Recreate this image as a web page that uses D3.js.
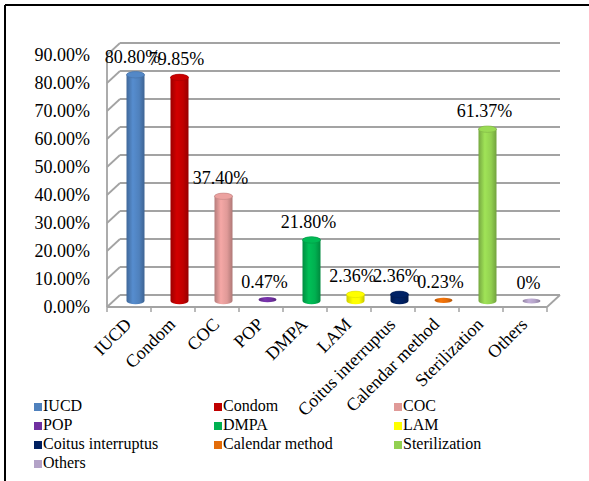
<!DOCTYPE html>
<html><head><meta charset="utf-8">
<script src="https://cdn.jsdelivr.net/npm/d3@7"></script>
<style>body{margin:0;background:#fff}svg{display:block}</style>
</head><body><div id="chart"></div>
<script>
const categories = ["IUCD","Condom","COC","POP","DMPA","LAM","Coitus interruptus","Calendar method","Sterilization","Others"];
const values = [80.80,79.85,37.40,0.47,21.80,2.36,2.36,0.23,61.37,0];
const valueLabels = ["80.80%","79.85%","37.40%","0.47%","21.80%","2.36%","2.36%","0.23%","61.37%","0%"];
const colors = ["#4F81BD","#C00000","#E09A98","#7030A0","#00B050","#FFFF00","#002060","#E36C09","#92D050","#B3A2C7"];
const yTicks = [0,10,20,30,40,50,60,70,80,90];

const FONT = "'Liberation Serif', 'DejaVu Serif', serif";
const W = 589, H = 481;
const svg = d3.select("#chart").append("svg").attr("width", W).attr("height", H)
  .attr("font-family", FONT);
const defs = svg.append("defs");

const depthX = 13, depthY = -12;
const x = d3.scaleBand().domain(categories).range([107, 547]);
const y = d3.scaleLinear().domain([0, 90]).range([307, 55]);
const grid = "#a3a3a3";

svg.append("line").attr("x1",5).attr("y1",5).attr("x2",W).attr("y2",5).attr("stroke","#000").attr("stroke-width",2);
svg.append("line").attr("x1",5).attr("y1",5).attr("x2",5).attr("y2",H).attr("stroke","#000").attr("stroke-width",2);

const g = svg.append("g");
yTicks.forEach(t => {
  g.append("line").attr("x1",107+depthX).attr("x2",547+depthX)
    .attr("y1",y(t)+depthY).attr("y2",y(t)+depthY).attr("stroke",grid).attr("stroke-width",1.8);
  g.append("line").attr("x1",107).attr("x2",107+depthX)
    .attr("y1",y(t)).attr("y2",y(t)+depthY).attr("stroke",grid).attr("stroke-width",1.8);
});
g.append("line").attr("x1",107).attr("x2",107).attr("y1",y(90)).attr("y2",y(0)).attr("stroke",grid).attr("stroke-width",1.8);
g.append("line").attr("x1",107).attr("x2",547).attr("y1",y(0)).attr("y2",y(0)).attr("stroke",grid).attr("stroke-width",1.8);
g.append("line").attr("x1",547).attr("x2",547+depthX).attr("y1",y(0)).attr("y2",y(0)+depthY).attr("stroke",grid).attr("stroke-width",1.8);
const tickXs = categories.map(c => x(c)).concat([x.range()[1]]);
tickXs.forEach(tx => {
  g.append("line").attr("x1",tx).attr("x2",tx).attr("y1",y(0)).attr("y2",y(0)+5).attr("stroke",grid).attr("stroke-width",1.5);
});

svg.append("g").selectAll("text").data(yTicks).join("text")
  .attr("font-family", FONT)
  .attr("x", 90).attr("y", d => y(d)).attr("dy","0.35em")
  .attr("text-anchor","end").attr("font-size",18).attr("fill","#000")
  .text(d => d.toFixed(2) + "%");

const rx = 9, ry = 3.2;
categories.forEach((c, i) => {
  const col = d3.color(colors[i]);
  const gid = "grad" + i;
  const lg = defs.append("linearGradient").attr("id", gid).attr("x1","0%").attr("x2","100%").attr("y1","0%").attr("y2","0%");
  lg.append("stop").attr("offset","0%").attr("stop-color", col.darker(0.6));
  lg.append("stop").attr("offset","35%").attr("stop-color", col.brighter(0.25));
  lg.append("stop").attr("offset","70%").attr("stop-color", col);
  lg.append("stop").attr("offset","100%").attr("stop-color", col.darker(0.7));
  const cx = x(c) + x.bandwidth()/2 + depthX/2;
  const base = y(0) + depthY/2;
  const top = y(values[i]) + depthY/2;
  if (values[i] > 0.6) {
    const p = `M${cx-rx},${top} L${cx-rx},${base} A${rx},${ry} 0 0 0 ${cx+rx},${base} L${cx+rx},${top} A${rx},${ry} 0 0 0 ${cx-rx},${top} Z`;
    svg.append("path").attr("d", p).attr("fill", `url(#${gid})`);
    svg.append("ellipse").attr("cx",cx).attr("cy",top).attr("rx",rx).attr("ry",ry)
      .attr("fill", col.brighter(0.15)).attr("stroke", col.darker(0.4)).attr("stroke-width",0.6);
  } else {
    svg.append("ellipse").attr("cx",cx).attr("cy",top).attr("rx",rx).attr("ry",2.6)
      .attr("fill", `url(#${gid})`);
  }
  svg.append("text").attr("font-family", FONT).attr("x", cx - 3).attr("y", top - 12)
    .attr("text-anchor","middle").attr("font-size",18).attr("fill","#000").text(valueLabels[i]);
});

svg.append("g").selectAll("text").data(categories).join("text")
  .attr("font-family", FONT)
  .attr("transform", d => `translate(${x(d)+x.bandwidth()/2-1},${y(0)+14}) rotate(-45)`)
  .attr("text-anchor","end").attr("font-size",18).attr("fill","#000").attr("dy","0.35em")
  .text(d => d);

const legend = svg.append("g").selectAll("g").data(categories).join("g")
  .attr("transform", (d,i) => `translate(${34 + (i%3)*180},${411 + Math.floor(i/3)*19})`);
legend.append("rect").attr("x",0).attr("y",-8).attr("width",8).attr("height",8).attr("fill",(d,i)=>colors[i]);
legend.append("text").attr("font-family", FONT).attr("x",9).attr("y",0).attr("font-size",16).attr("fill","#000").text(d=>d);
</script></body></html>
